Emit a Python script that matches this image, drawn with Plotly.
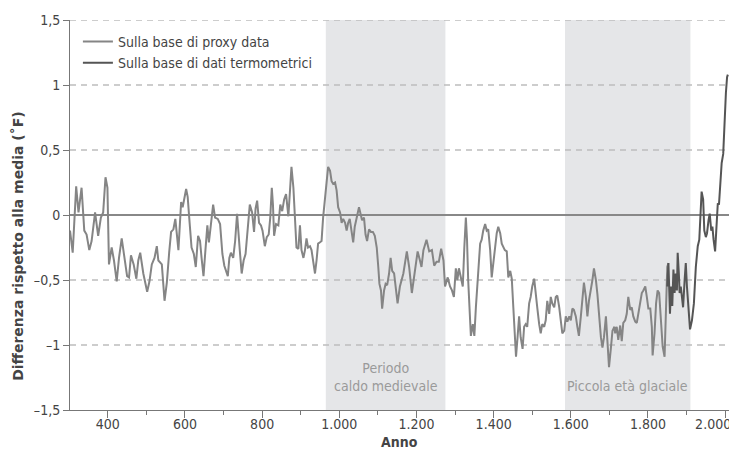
import plotly.graph_objects as go

# ---- data ----
proxy_years = [302, 309, 318, 324, 332, 339, 345, 352, 358, 367, 375, 382, 388, 394, 399, 403, 410, 416, 423, 429,
               436, 443, 450, 455, 460, 467, 474, 479, 484, 492, 502, 508, 514, 521, 527, 531, 540, 547, 553, 559,
               564, 570, 575, 578, 583, 590, 594, 603, 607, 611, 617, 623, 628, 634, 639, 643, 648, 653, 658, 662,
               667, 673, 678, 685, 691, 697, 702, 706, 711, 715, 719, 725, 730, 735, 739, 742, 747, 752, 757, 762,
               768, 774, 779, 783, 787, 792, 797, 801, 807, 812, 817, 821, 825, 828, 831, 836, 842, 847, 852, 857,
               862, 868, 872, 876, 881, 885, 889, 894, 898, 902, 907, 911, 915, 919, 924, 928, 932, 937, 941, 945,
               950, 954, 958, 963, 967, 971, 976, 980, 984, 989, 993, 997, 1002, 1006, 1010, 1015, 1019, 1023, 1027, 1032,
               1036, 1040, 1045, 1051, 1055, 1059, 1064, 1068, 1072, 1077, 1082, 1087, 1092, 1097, 1101, 1104, 1108, 1111, 1116, 1120,
               1124, 1129, 1133, 1137, 1142, 1146, 1151, 1157, 1166, 1175, 1181, 1188, 1195, 1203, 1209, 1213, 1218, 1226, 1233, 1240,
               1246, 1252, 1258, 1264, 1270, 1274, 1281, 1287, 1292, 1297, 1302, 1306, 1310, 1315, 1320, 1324, 1328, 1331, 1334, 1339,
               1341, 1346, 1350, 1354, 1360, 1365, 1369, 1373, 1378, 1382, 1386, 1391, 1395, 1399, 1404, 1408, 1412, 1417, 1421, 1425,
               1429, 1434, 1438, 1443, 1447, 1451, 1456, 1458, 1462, 1466, 1470, 1475, 1479, 1483, 1487, 1492, 1496, 1500, 1505, 1509,
               1513, 1518, 1522, 1526, 1531, 1535, 1539, 1544, 1548, 1552, 1557, 1561, 1565, 1570, 1574, 1578, 1583, 1587, 1591, 1596,
               1600, 1604, 1608, 1613, 1617, 1621, 1626, 1630, 1634, 1639, 1643, 1647, 1652, 1656, 1660, 1665, 1669, 1673, 1678, 1682,
               1686, 1691, 1695, 1699, 1704, 1708, 1713, 1715, 1719, 1723, 1728, 1732, 1736, 1741, 1745, 1749, 1754, 1758, 1762, 1767,
               1771, 1775, 1780, 1784, 1788, 1793, 1797, 1801, 1806, 1810, 1812, 1817, 1821, 1825, 1829, 1833, 1838, 1843, 1846, 1850,
               1853]
proxy_values = [-0.12, -0.29, 0.22, 0.02, 0.21, -0.12, -0.15, -0.27, -0.20, 0.02, -0.16, -0.02, 0.02, 0.29, 0.21, -0.38, -0.25, -0.35, -0.51, -0.33,
                -0.18, -0.33, -0.47, -0.48, -0.31, -0.38, -0.49, -0.35, -0.29, -0.45, -0.59, -0.51, -0.38, -0.33, -0.24, -0.35, -0.38, -0.66, -0.52, -0.29,
                -0.13, -0.11, -0.03, -0.12, -0.27, 0.10, 0.06, 0.20, 0.14, -0.02, -0.25, -0.30, -0.40, -0.16, -0.20, -0.33, -0.47, -0.27, -0.08, -0.21,
                -0.08, 0.08, -0.02, -0.03, -0.07, -0.30, -0.39, -0.42, -0.47, -0.33, -0.29, -0.33, -0.20, 0.01, -0.12, -0.27, -0.45, -0.35, -0.30, -0.12,
                0.08, 0.02, -0.13, 0.05, 0.11, -0.06, -0.08, -0.12, -0.24, -0.17, -0.15, -0.02, 0.21, 0.08, -0.16, -0.07, -0.08, 0.08, 0.03, 0.12,
                0.16, -0.01, 0.19, 0.37, 0.21, -0.01, -0.25, -0.26, -0.08, -0.27, -0.33, -0.27, -0.18, -0.25, -0.24, -0.27, -0.35, -0.45, -0.35, -0.22,
                -0.21, -0.20, -0.02, 0.14, 0.30, 0.37, 0.34, 0.26, 0.24, 0.25, 0.19, 0.06, 0.02, -0.06, -0.03, -0.06, -0.12, -0.06, -0.03, -0.12,
                -0.21, -0.09, -0.01, 0.06, 0.01, -0.04, -0.02, -0.15, -0.20, -0.11, -0.13, -0.13, -0.16, -0.25, -0.40, -0.53, -0.58, -0.72, -0.58, -0.53,
                -0.54, -0.45, -0.33, -0.43, -0.45, -0.58, -0.68, -0.55, -0.45, -0.28, -0.40, -0.60, -0.45, -0.28, -0.35, -0.40, -0.27, -0.19, -0.28, -0.27,
                -0.39, -0.36, -0.36, -0.26, -0.35, -0.55, -0.48, -0.55, -0.58, -0.63, -0.41, -0.50, -0.41, -0.48, -0.55, -0.25, -0.02, -0.19, -0.50, -0.81,
                -0.93, -0.84, -0.93, -0.71, -0.40, -0.22, -0.19, -0.12, -0.07, -0.12, -0.11, -0.27, -0.48, -0.37, -0.25, -0.14, -0.09, -0.14, -0.22, -0.25,
                -0.27, -0.28, -0.48, -0.43, -0.49, -0.71, -0.94, -1.09, -0.94, -0.78, -0.94, -1.03, -0.86, -0.84, -0.86, -0.68, -0.63, -0.55, -0.49, -0.58,
                -0.71, -0.84, -0.91, -0.84, -0.86, -0.81, -0.66, -0.76, -0.63, -0.68, -0.71, -0.63, -0.62, -0.71, -0.81, -0.91, -0.89, -0.78, -0.82, -0.78,
                -0.81, -0.72, -0.73, -0.78, -0.86, -0.93, -0.78, -0.63, -0.52, -0.63, -0.78, -0.66, -0.58, -0.50, -0.41, -0.50, -0.61, -0.76, -0.94, -1.02,
                -0.94, -0.78, -1.02, -1.17, -1.02, -0.89, -0.86, -0.91, -0.86, -0.96, -0.85, -0.97, -0.83, -0.81, -0.76, -0.63, -0.73, -0.71, -0.78, -0.82,
                -0.83, -0.76, -0.65, -0.60, -0.58, -0.55, -0.63, -0.72, -0.72, -0.86, -1.08, -0.91, -0.68, -0.58, -0.60, -0.83, -1.01, -1.09, -0.81, -0.40,
                -0.37]

thermo_years = [1850, 1853, 1857, 1860, 1863, 1866, 1869, 1872, 1875, 1877, 1880, 1882, 1885, 1888, 1891, 1895, 1898, 1901, 1905, 1909,
                1914, 1919, 1924, 1929, 1933, 1936, 1939, 1943, 1946, 1950, 1953, 1957, 1960, 1964, 1967, 1970, 1974, 1977, 1981, 1984,
                1988, 1991, 1995, 1998, 2002, 2005, 2007]
thermo_values = [-0.55, -0.37, -0.76, -0.55, -0.70, -0.42, -0.60, -0.45, -0.58, -0.29, -0.45, -0.60, -0.55, -0.65, -0.71, -0.50, -0.37, -0.55, -0.76, -0.88,
                 -0.81, -0.68, -0.40, -0.24, -0.19, 0.01, 0.18, 0.12, -0.12, -0.17, -0.14, -0.04, 0.01, -0.12, -0.09, -0.19, -0.28, -0.12, 0.09, 0.08,
                 0.29, 0.40, 0.47, 0.73, 0.94, 1.06, 1.08]

series_names = ["Sulla base di proxy data", "Sulla base di dati termometrici"]
periods = [(965, 1275, "Periodo<br>caldo medievale"), (1585, 1910, "Piccola età glaciale")]

x_tickvals = [400, 600, 800, 1000, 1200, 1400, 1600, 1800, 2000]
x_ticktext = ["400", "600", "800", "1.000", "1.200", "1.400", "1.600", "1.800", "2.000" + "\u00a0" * 6]
y_tickvals = [1.5, 1, 0.5, 0, -0.5, -1, -1.5]
y_ticktext = ["1,5", "1", "0,5", "0", "–0,5", "–1", "–1,5"]
grid_levels = [1.5, 1, 0.5, -0.5, -1]

FONT = "DejaVu Sans Condensed, DejaVu Sans, sans-serif"
TITLE_FONT = "DejaVu Sans, sans-serif"
X0, X1 = 302, 2010

fig = go.Figure()

# shaded periods
for a, b, label in periods:
    fig.add_shape(type="rect", xref="x", yref="y", x0=a, x1=b, y0=-1.5, y1=1.5,
                  fillcolor="#e5e6e8", line_width=0, layer="below")
    fig.add_annotation(x=(a + b) / 2, y=-1.395, xref="x", yref="y", text=label,
                       showarrow=False, yanchor="bottom", font=dict(family=FONT, size=14, color="#9a9a9a"))

# dashed grid
for g in grid_levels:
    fig.add_shape(type="line", xref="x", yref="y", x0=X0, x1=X1, y0=g, y1=g,
                  line=dict(color="#bdbdbd", width=1.3, dash="6px,5px"), layer="below")
# zero line
fig.add_shape(type="line", xref="x", yref="y", x0=X0, x1=X1, y0=0, y1=0,
              line=dict(color="#888888", width=2), layer="below")

fig.add_trace(go.Scatter(x=proxy_years, y=proxy_values, mode="lines", name=series_names[0],
                         line=dict(color="#858585", width=2)))
fig.add_trace(go.Scatter(x=thermo_years, y=thermo_values, mode="lines", name=series_names[1],
                         line=dict(color="#555555", width=2)))

fig.add_annotation(x=0.5, y=-0.082, xref="paper", yref="paper", text="<b>Anno</b>", showarrow=False,
                   yanchor="middle", font=dict(family=FONT, size=14, color="#444444"))
fig.add_annotation(x=-0.078, y=0.42, xref="paper", yref="paper", text="<b>Differenza rispetto alla media (˚F)</b>",
                   showarrow=False, textangle=-90, xanchor="center", yanchor="middle",
                   font=dict(family=TITLE_FONT, size=14, color="#444444"))

# the page body has an 8px margin: figure is sized/offset to compensate
fig.update_layout(
    width=729, height=449,
    margin=dict(l=62, r=8, t=12, b=47, autoexpand=False),
    paper_bgcolor="white", plot_bgcolor="white",
    font=dict(family=FONT, size=14, color="#444444"),
    showlegend=True,
    legend=dict(x=0.012, y=0.985, xanchor="left", yanchor="top", bgcolor="rgba(0,0,0,0)",
                font=dict(family=FONT, size=14, color="#444444"), tracegroupgap=0, itemwidth=30),
    xaxis=dict(range=[X0, X1], tickvals=x_tickvals, ticktext=x_ticktext, showgrid=False, zeroline=False,
               showline=True, linecolor="#777777", linewidth=1, ticks="outside", ticklen=7, tickcolor="#777777",
               minor=dict(ticks="outside", ticklen=4, tickcolor="#777777", tickvals=list(range(500, 2000, 200))),
               ticklabeloverflow="allow", ticklabelstandoff=-6,
               tickfont=dict(family=FONT, size=14, color="#444444"), fixedrange=True),
    yaxis=dict(range=[-1.5, 1.5], tickvals=y_tickvals, ticktext=y_ticktext, showgrid=False, zeroline=False,
               showline=True, linecolor="#777777", linewidth=1, ticks="outside", ticklen=6, tickcolor="#777777",
               tickfont=dict(family=FONT, size=14, color="#444444"), fixedrange=True),
)

fig.write_html("out.html")
